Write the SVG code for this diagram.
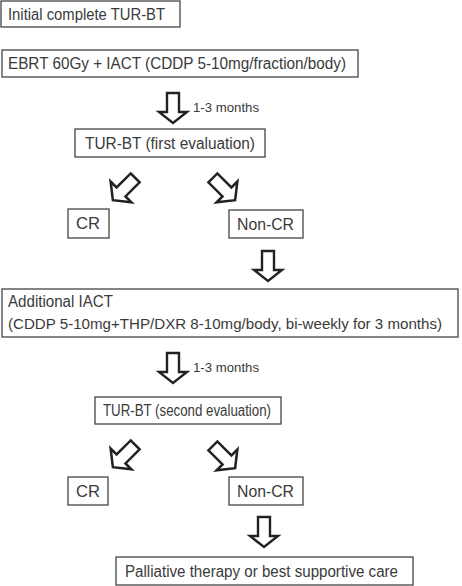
<svg xmlns="http://www.w3.org/2000/svg" width="462" height="586" viewBox="0 0 462 586">
<defs>
<style>
.box{fill:#fff;stroke:#444;stroke-width:1.3}
.t{font-family:"Liberation Sans",Arial,sans-serif;font-size:16px;fill:#3a3a3a}
.s{font-family:"Liberation Sans",Arial,sans-serif;font-size:13px;fill:#3a3a3a}
.arr{fill:#fff;stroke:#222;stroke-width:2.4;stroke-linejoin:miter}
</style>
<path id="ba" d="M-6,-15 H6 V4 H14 L0,15 L-14,4 H-6 Z"/>
</defs>
<rect width="462" height="586" fill="#fff"/>
<g id="n1"><rect class="box" x="1" y="1" width="179" height="26"/><text class="t" x="8" y="20" textLength="157" lengthAdjust="spacingAndGlyphs">Initial complete TUR-BT</text></g>
<g id="n2"><rect class="box" x="2" y="50" width="356" height="27"/><text class="t" x="8" y="69" textLength="338" lengthAdjust="spacingAndGlyphs">EBRT 60Gy + IACT (CDDP 5-10mg/fraction/body)</text></g>
<g id="n3"><rect class="box" x="75" y="129" width="190" height="28"/><text class="t" x="85" y="149" textLength="170" lengthAdjust="spacingAndGlyphs">TUR-BT (first evaluation)</text></g>
<g id="n4"><rect class="box" x="68" y="209" width="41" height="29"/><text class="t" x="76" y="229" textLength="24" lengthAdjust="spacingAndGlyphs">CR</text></g>
<g id="n5"><rect class="box" x="229" y="210" width="74" height="28"/><text class="t" x="237" y="230" textLength="57" lengthAdjust="spacingAndGlyphs">Non-CR</text></g>
<g id="n6"><rect class="box" x="2" y="289" width="456" height="48"/><text class="t" x="8" y="307" textLength="105" lengthAdjust="spacingAndGlyphs">Additional IACT</text><text class="t" x="8" y="329" style="font-size:15px" textLength="434" lengthAdjust="spacingAndGlyphs">(CDDP 5-10mg+THP/DXR 8-10mg/body, bi-weekly for 3 months)</text></g>
<g id="n7"><rect class="box" x="95" y="397" width="186" height="27"/><text class="t" x="103" y="416" textLength="168" lengthAdjust="spacingAndGlyphs">TUR-BT (second evaluation)</text></g>
<g id="n8"><rect class="box" x="68" y="477" width="40" height="28"/><text class="t" x="76" y="497" textLength="24" lengthAdjust="spacingAndGlyphs">CR</text></g>
<g id="n9"><rect class="box" x="229" y="477" width="74" height="28"/><text class="t" x="237" y="497" textLength="57" lengthAdjust="spacingAndGlyphs">Non-CR</text></g>
<g id="n10"><rect class="box" x="116" y="557" width="297" height="28"/><text class="t" x="125" y="577" textLength="273" lengthAdjust="spacingAndGlyphs">Palliative therapy or best supportive care</text></g>
<g id="connectors">
<use href="#ba" class="arr" transform="translate(173,108)"/>
<text class="s" x="193" y="112" textLength="66" lengthAdjust="spacingAndGlyphs">1-3 months</text>
<use href="#ba" class="arr" transform="translate(124,189) rotate(45) scale(1.05)"/>
<use href="#ba" class="arr" transform="translate(224,189) rotate(-45) scale(1.05)"/>
<use href="#ba" class="arr" transform="translate(268,266)"/>
<use href="#ba" class="arr" transform="translate(173,368)"/>
<text class="s" x="193" y="372" textLength="66" lengthAdjust="spacingAndGlyphs">1-3 months</text>
<use href="#ba" class="arr" transform="translate(124,456) rotate(45) scale(1.05)"/>
<use href="#ba" class="arr" transform="translate(224,457) rotate(-45) scale(1.05)"/>
<use href="#ba" class="arr" transform="translate(264,532)"/>
</g>
</svg>
